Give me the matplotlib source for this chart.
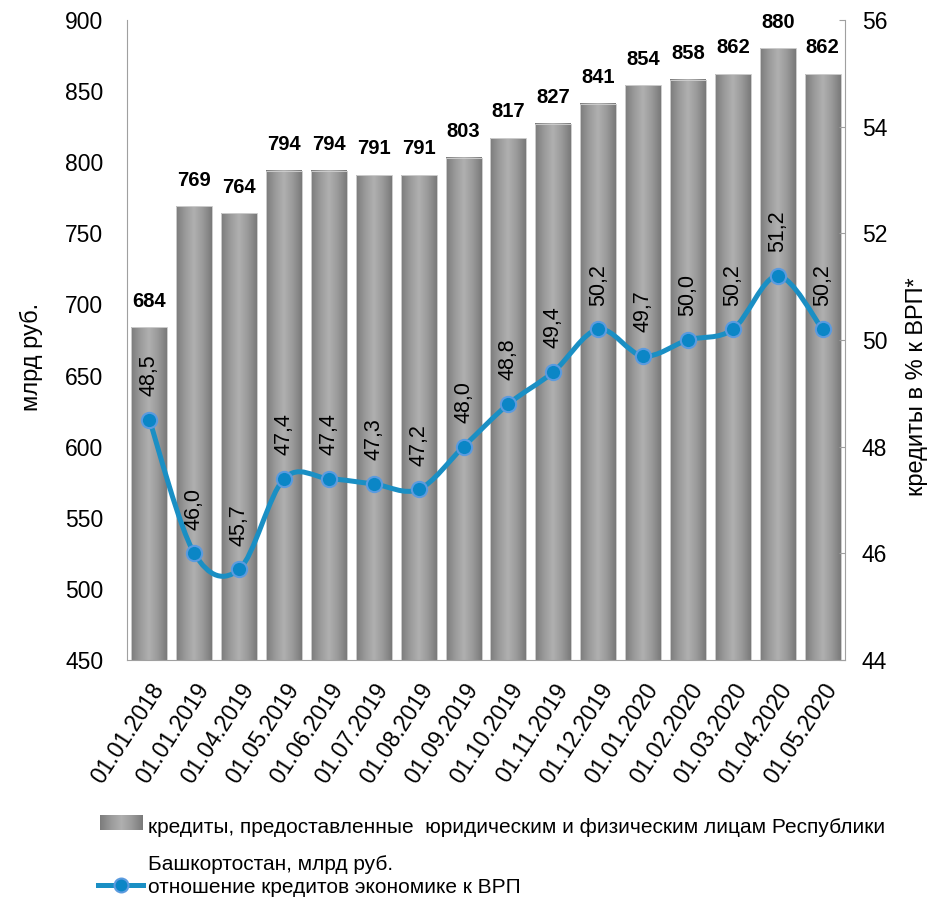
import numpy as np
import matplotlib
matplotlib.use("Agg")
import matplotlib.pyplot as plt
from matplotlib.path import Path
from matplotlib.patches import PathPatch, Rectangle
from matplotlib.lines import Line2D
from matplotlib.colors import LinearSegmentedColormap

plt.rcParams['font.family'] = ['Liberation Sans', 'DejaVu Sans']

dates = ["01.01.2018", "01.01.2019", "01.04.2019", "01.05.2019", "01.06.2019",
         "01.07.2019", "01.08.2019", "01.09.2019", "01.10.2019", "01.11.2019",
         "01.12.2019", "01.01.2020", "01.02.2020", "01.03.2020", "01.04.2020",
         "01.05.2020"]
credits = [684, 769, 764, 794, 794, 791, 791, 803, 817, 827, 841, 854, 858, 862, 880, 862]
ratio = [48.5, 46.0, 45.7, 47.4, 47.4, 47.3, 47.2, 48.0, 48.8, 49.4, 50.2, 49.7, 50.0,
         50.2, 51.2, 50.2]

bar_label = "кредиты, предоставленные  юридическим и физическим лицам Республики\nБашкортостан, млрд руб."
line_label = "отношение кредитов экономике к ВРП"
left_ylabel = "млрд руб."
right_ylabel = "кредиты в % к ВРП*"

LINE_C = "#1a8fc4"
MARK_C = "#0b86c6"
MARK_E = "#5b9bdf"
SPINE_C = "#a0a0a0"

W, H = 944, 901


def fx(px):
    return px / W


def fy(py):
    return 1 - py / H


cmap = LinearSegmentedColormap.from_list(
    "cyl", ["#7c7c7c", "#9a9a9a", "#b0b0b0", "#9a9a9a", "#7a7a7a"])

fig = plt.figure(figsize=(W / 100, H / 100), dpi=100)
ax = fig.add_axes([fx(127), fy(660), (845 - 127) / W, 640 / H])
ax2 = ax.twinx()

n = len(dates)
x = np.arange(n)
bw = 0.8
ymin, ymax = 450, 900

grad = np.linspace(0, 1, 64).reshape(1, -1)
for xi, v in zip(x, credits):
    ax.imshow(grad, cmap=cmap, extent=(xi - bw / 2, xi + bw / 2, ymin, v),
              aspect='auto', zorder=2, interpolation='bilinear')
    ax.add_patch(Rectangle((xi - bw / 2, ymin), bw, v - ymin, fill=False,
                           edgecolor="#cccccc", lw=0.7, zorder=3))
    ax.annotate(f"{v}", (xi, v), xytext=(0, 12), textcoords='offset points',
                ha='center', va='bottom', fontsize=14.5, fontweight='bold', zorder=4)
ax.set_xlim(-0.5, n - 0.5)
ax.set_ylim(ymin, ymax)

ax.set_yticks(np.arange(450, 901, 50))
ax.tick_params(axis='y', length=0, labelsize=16.5, pad=17)
ax.set_xticks(x)
ax.set_xticklabels(dates, rotation=57, ha='right', rotation_mode='anchor', fontsize=16.5)
ax.tick_params(axis='x', length=0, pad=14)
for s in ['top', 'right']:
    ax.spines[s].set_visible(False)
for s in ['left', 'bottom']:
    ax.spines[s].set_color(SPINE_C)

# smoothed line (Catmull-Rom -> cubic Bezier through data points)
pts = np.column_stack([x, ratio]).astype(float)
verts = [tuple(pts[0])]
codes = [Path.MOVETO]
for i in range(n - 1):
    p0 = pts[i - 1] if i > 0 else pts[i]
    p1 = pts[i]
    p2 = pts[i + 1]
    p3 = pts[i + 2] if i + 2 < n else pts[i + 1]
    c1 = p1 + (p2 - p0) / 6.0
    c2 = p2 - (p3 - p1) / 6.0
    verts += [tuple(c1), tuple(c2), tuple(p2)]
    codes += [Path.CURVE4] * 3
ax2.add_patch(PathPatch(Path(verts, codes), fill=False, edgecolor=LINE_C, lw=3.6,
                        zorder=5, capstyle='round', joinstyle='round'))
ax2.plot(x, ratio, linestyle='none', marker='o', markersize=11,
         markerfacecolor=MARK_C, markeredgecolor=MARK_E, markeredgewidth=1.5, zorder=6)
for xi, v in zip(x, ratio):
    ax2.annotate(f"{v:.1f}".replace('.', ','), (xi, v), xytext=(0, 17),
                 textcoords='offset points', rotation=90, ha='center', va='bottom',
                 fontsize=15.5, zorder=7)

ax2.set_ylim(44, 56)
ax2.set_yticks(np.arange(44, 57, 2))
ax2.tick_params(axis='y', direction='in', length=4, color=SPINE_C, labelsize=16.5, pad=12)
for s in ['top', 'left', 'bottom']:
    ax2.spines[s].set_visible(False)
ax2.spines['right'].set_color(SPINE_C)
ax2.set_xlim(-0.5, n - 0.5)

# axis titles
fig.text(fx(31), fy(357), left_ylabel, rotation=90, ha='center', va='center', fontsize=17)
fig.text(fx(917), fy(387), right_ylabel, rotation=90, ha='center', va='center', fontsize=17)

# legend (drawn manually for exact placement)
lax = fig.add_axes([fx(100), fy(830), 43 / W, 15 / H])
lax.imshow(np.linspace(0, 1, 64).reshape(1, -1), cmap=cmap, aspect='auto',
           interpolation='bilinear')
lax.set_axis_off()
bar_lines = bar_label.split("\n")
fig.text(fx(148), fy(833), bar_lines[0], ha='left', va='baseline', fontsize=15)
fig.text(fx(148), fy(870), bar_lines[1], ha='left', va='baseline', fontsize=15)
fig.add_artist(Line2D([fx(98), fx(143)], [fy(885), fy(885)], transform=fig.transFigure,
                      color=LINE_C, lw=3.6))
fig.add_artist(Line2D([fx(121)], [fy(885)], transform=fig.transFigure, marker='o',
                      markersize=10, markerfacecolor=MARK_C, markeredgecolor=MARK_E,
                      markeredgewidth=1.5, linestyle='none'))
fig.text(fx(148), fy(893), line_label, ha='left', va='baseline', fontsize=15)

fig.savefig("out.png", dpi=100)
